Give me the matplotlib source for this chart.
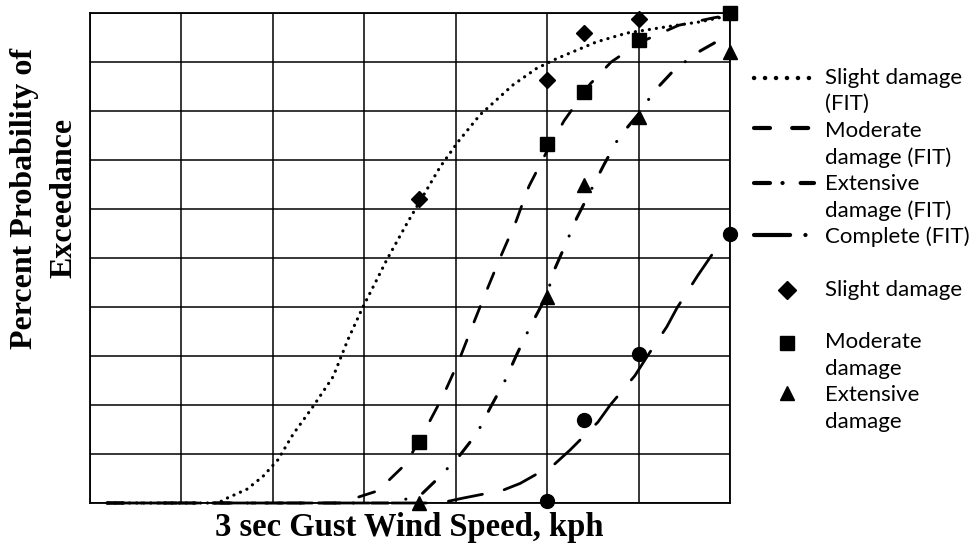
import matplotlib
matplotlib.use("Agg")
import matplotlib.pyplot as plt
from matplotlib.lines import Line2D

# values: wind speed (kph), percent probability of exceedance
slight_fit_x = [84, 108, 110, 114.3, 117.8, 121.1, 124.4, 128.8, 133.2, 136.4, 139.7, 142.7,
                144.9, 149.3, 156.6, 160.5, 165.3, 172.5, 177.7, 182.1, 190.8, 197.4,
                206.2, 213.5, 219]
slight_fit_y = [0, 0, 1, 2.8, 5.4, 8.8, 14, 19.7, 25.8, 33.3, 40, 45.5,
                49.6, 57, 68.6, 73.7, 79.2, 85.3, 88.7, 90.7, 94.1, 95.9,
                97.2, 98.2, 99.3]

moderate_fit_x = [83.7, 134.7, 143, 149.1, 152.8, 157.2, 160.5, 163.6, 166.6, 169.7, 173.2,
                  176, 179.8, 183.7, 189.4, 194, 200.3, 208.8, 216.3, 220]
moderate_fit_y = [0, 0, 2.5, 8, 14, 21.8, 28.6, 36, 43, 50, 57.5,
                  64.6, 71.5, 78, 85.5, 90, 94, 97.5, 99, 99.6]

extensive_fit_x = [83.7, 145.6, 152.2, 156.1, 160.7, 164.7, 167.7, 170.8, 173.4, 176.3, 180,
                   181.3, 183.9, 186.5, 189.4, 192.4, 195.7, 200.1, 203.4, 207.8, 213, 218.5]
extensive_fit_y = [0, 0, 1.5, 5, 9.5, 14.3, 19.7, 25, 30.4, 36, 42.5,
                   47, 52.5, 58.2, 63.5, 69, 74.6, 79.5, 84, 88.4, 92, 94.9]

complete_fit_x = [83.7, 156.6, 161.6, 170.3, 174.1, 181.7, 185, 191.1, 193.8, 199.2, 201.8,
                  206.2, 208.4, 213, 216.3, 219.6]
complete_fit_y = [0, 0, 1, 2.6, 4, 8, 10.8, 16.5, 20, 26, 29.8,
                  36, 39.8, 46.5, 51, 55]

slight_x = [152, 180, 188, 200]
slight_y = [62, 86.3, 95.9, 98.8]
moderate_x = [152, 180, 188, 200, 220]
moderate_y = [12.5, 73.3, 83.8, 94.5, 100]
extensive_x = [152, 180, 188, 200, 220]
extensive_y = [0, 42, 65, 78.8, 92.1]
complete_x = [180, 188, 200, 220]
complete_y = [0.5, 17, 30.4, 55]

plt.rcParams['lines.scale_dashes'] = False

W, H = 971, 548
fig = plt.figure(figsize=(W / 100, H / 100), dpi=100)
ax = fig.add_axes([90 / W, 1 - 503 / H, 640 / W, 490 / H])

ax.set_xlim(80, 220)
ax.set_ylim(0, 100)
ax.set_xticks(range(80, 221, 20))
ax.set_yticks(range(0, 101, 10))
ax.tick_params(length=0, labelbottom=False, labelleft=False)
ax.grid(True, color='black', linewidth=1.1)
ax.set_axisbelow(True)
for s in ax.spines.values():
    s.set_linewidth(1.3)

styles = {
    'slight': dict(dashes=(0.1, 5.0), dash_capstyle='round', lw=2.3),
    'moderate': dict(dashes=(12, 14), dash_capstyle='round', lw=2.0),
    'extensive': dict(dashes=(12, 13, 0.1, 13), dash_capstyle='round', lw=2.2),
    'complete': dict(dashes=(25, 16), dash_capstyle='round', lw=2.0),
}
legend_styles = {
    'slight': dict(dashes=(0.1, 7.8), dash_capstyle='round', lw=3.2),
    'moderate': dict(dashes=(11.5, 16), dash_capstyle='round', lw=3.0),
    'extensive': dict(dashes=(11.5, 9, 0.1, 13), dash_capstyle='round', lw=3.0),
    'complete': dict(dashes=(26, 11, 0.1, 10), dash_capstyle='round', lw=3.0),
}

ax.plot(slight_fit_x, slight_fit_y, color='black', clip_on=False, **styles['slight'])
ax.plot(moderate_fit_x, moderate_fit_y, color='black', clip_on=False, **styles['moderate'])
ax.plot(extensive_fit_x, extensive_fit_y, color='black', clip_on=False, **styles['extensive'])
ax.plot(complete_fit_x, complete_fit_y, color='black', clip_on=False, **styles['complete'])

ax.plot(slight_x, slight_y, 'D', color='black', ms=8, clip_on=False, zorder=5)
ax.plot(moderate_x, moderate_y, 's', color='black', ms=10, clip_on=False, zorder=5)
ax.plot(extensive_x, extensive_y, '^', color='black', ms=10, clip_on=False, zorder=5)
ax.plot(complete_x, complete_y, 'o', color='black', ms=10, clip_on=False, zorder=5)


def fy(py):
    return 1 - py / H


fig.text(409 / W, fy(536), '3 sec Gust Wind Speed, kph', family='Liberation Serif',
         weight='bold', fontsize=23.5, ha='center', va='baseline')
fig.text(44 / W, fy(198), 'Percent Probability of\nExceedance', family='Liberation Serif',
         weight='bold', fontsize=23, rotation=90, ha='center', va='center',
         multialignment='center', linespacing=1.45)

# legend drawn by hand so the samples line up with the first text line
lf = dict(family='Lato', fontsize=16, va='center', ha='left')
for key, py in [('slight', 78), ('moderate', 128), ('extensive', 183), ('complete', 235)]:
    fig.add_artist(Line2D([754 / W, 814 / W], [fy(py), fy(py)], color='black',
                          transform=fig.transFigure, **legend_styles[key]))
for mk, py in [('D', 290), ('s', 343), ('^', 393)]:
    fig.add_artist(Line2D([787 / W], [fy(py)], marker=mk, color='black',
                          ms=9 if mk == 'D' else 10.5,
                          linestyle='none', transform=fig.transFigure))

legend_lines = [('Slight damage', 78), ('(FIT)', 104), ('Moderate', 131), ('damage (FIT)', 158),
                ('Extensive', 184), ('damage (FIT)', 211), ('Complete (FIT)', 237),
                ('Slight damage', 290), ('Moderate', 342), ('damage', 369),
                ('Extensive', 395), ('damage', 422)]
for txt, py in legend_lines:
    fig.text(825 / W, fy(py), txt, **lf)

fig.savefig('out.png', dpi=100)
